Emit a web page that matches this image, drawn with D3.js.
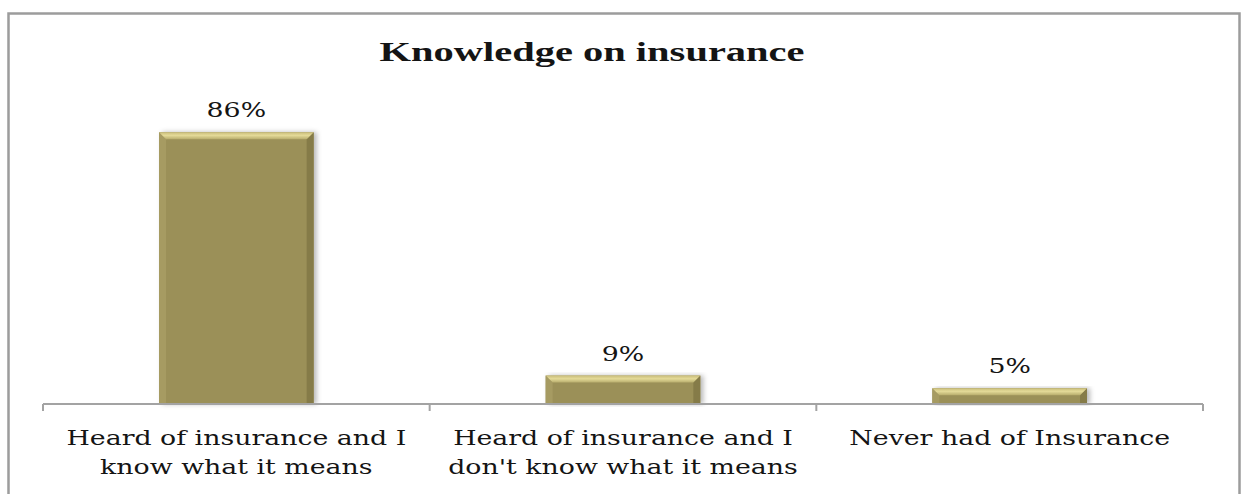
<!DOCTYPE html>
<html>
<head>
<meta charset="utf-8">
<script src="https://cdn.jsdelivr.net/npm/d3@7"></script>
<style>
  html, body { margin: 0; padding: 0; background: #fff; }
  svg { display: block; }
</style>
</head>
<body>
<svg id="chart"></svg>
<script>
/* ---------- data ---------- */

var categories = [
    ["Heard of insurance and I", "know what it means"],
    ["Heard of insurance and I", "don't know what it means"],
    ["Never had of Insurance"]
];
var values = [86, 9, 5];
var valueLabels = ["86%", "9%", "5%"];
var title = "Knowledge on insurance";

/* ---------- size ---------- */

var WIDTH = 1242,
    HEIGHT = 494;

var barColor = "#9b9058",
    axisColor = "#a3a3a3",
    textColor = "#141414";

// the original picture is stretched sideways, so text is too
var stretchTitle = 1.5,
    stretchText = 1.34;

var svg = d3.select("#chart")
    .attr("width", WIDTH)
    .attr("height", HEIGHT);

// outer frame
svg.append("rect")
    .attr("x", 8.5).attr("y", 13.5)
    .attr("width", 1231).attr("height", 500)
    .attr("fill", "#fff")
    .attr("stroke", "#9c9c9c")
    .attr("stroke-width", 2.5);

var defs = svg.append("defs");
var shadow = defs.append("filter")
    .attr("id", "shadow")
    .attr("x", "-10%").attr("y", "-10%")
    .attr("width", "130%").attr("height", "120%");
shadow.append("feDropShadow")
    .attr("dx", 3).attr("dy", 0)
    .attr("stdDeviation", 2.5)
    .attr("flood-color", "#000")
    .attr("flood-opacity", 0.28);

var topGrad = defs.append("linearGradient")
    .attr("id", "topGrad")
    .attr("x1", 0).attr("y1", 0).attr("x2", 0).attr("y2", 1);
topGrad.append("stop").attr("offset", "0%").attr("stop-color", "#c9bd7a");
topGrad.append("stop").attr("offset", "45%").attr("stop-color", "#e4da98");
topGrad.append("stop").attr("offset", "100%").attr("stop-color", "#b8ad6d");

/* ---------- scales ---------- */

var x = d3.scaleBand()
    .domain(d3.range(values.length))
    .range([43, 1203])
    .paddingInner(0.6)
    .paddingOuter(0.3);

var y = d3.scaleLinear()
    .domain([0, 100])
    .range([404, 88]);

/* ---------- title ---------- */

svg.append("text")
    .attr("transform", "translate(592,61) scale(" + stretchTitle + ",1)")
    .attr("text-anchor", "middle")
    .attr("font-family", "'Liberation Serif', 'Times New Roman', serif")
    .attr("font-weight", "bold")
    .attr("font-size", "27px")
    .attr("fill", textColor)
    .text(title);

/* ---------- bars ---------- */

var bars = svg.selectAll(".bar")
    .data(values)
    .enter().append("g")
    .attr("class", "bar");

bars.append("rect")
    .attr("x", function(d, i) { return x(i); })
    .attr("y", function(d) { return y(d); })
    .attr("width", x.bandwidth())
    .attr("height", function(d) { return y(0) - y(d); })
    .attr("fill", barColor)
    .attr("filter", "url(#shadow)");

// bevel edges
var bev = 7;
bars.append("polygon")   // left
    .attr("fill", "#a69b62")
    .attr("points", function(d, i) {
        var x0 = x(i), t = y(d), b = y(0);
        return [[x0, t], [x0 + bev, t + bev], [x0 + bev, b], [x0, b]].join(" ");
    });
bars.append("polygon")   // right
    .attr("fill", "#857b48")
    .attr("points", function(d, i) {
        var x1 = x(i) + x.bandwidth(), t = y(d), b = y(0);
        return [[x1, t], [x1 - bev, t + bev], [x1 - bev, b], [x1, b]].join(" ");
    });
bars.append("polygon")   // top
    .attr("fill", "url(#topGrad)")
    .attr("points", function(d, i) {
        var x0 = x(i), x1 = x(i) + x.bandwidth(), t = y(d);
        return [[x0, t], [x1, t], [x1 - bev, t + bev], [x0 + bev, t + bev]].join(" ");
    });

// value labels
svg.selectAll(".value")
    .data(values)
    .enter().append("text")
    .attr("class", "value")
    .attr("transform", function(d, i) {
        return "translate(" + (x(i) + x.bandwidth() / 2) + "," + (y(d) - 15) + ") scale(" + stretchText + ",1)";
    })
    .attr("text-anchor", "middle")
    .attr("font-family", "'DejaVu Serif', serif")
    .attr("font-size", "20px")
    .attr("fill", textColor)
    .text(function(d, i) { return valueLabels[i]; });

/* ---------- axis ---------- */

var axisLeft = x.range()[0], axisRight = x.range()[1];

svg.append("line")
    .attr("x1", axisLeft).attr("x2", axisRight)
    .attr("y1", y(0)).attr("y2", y(0))
    .attr("stroke", axisColor)
    .attr("stroke-width", 2);

var tickPos = d3.range(values.length + 1).map(function(i) {
    return axisLeft + i * (axisRight - axisLeft) / values.length;
});
svg.selectAll(".tick")
    .data(tickPos)
    .enter().append("line")
    .attr("class", "tick")
    .attr("x1", function(d) { return d; })
    .attr("x2", function(d) { return d; })
    .attr("y1", y(0)).attr("y2", y(0) + 7)
    .attr("stroke", axisColor)
    .attr("stroke-width", 2);

// category labels
var cat = svg.selectAll(".cat")
    .data(categories)
    .enter().append("text")
    .attr("class", "cat")
    .attr("transform", function(d, i) {
        return "translate(" + (x(i) + x.bandwidth() / 2) + ",445) scale(" + stretchText + ",1)";
    })
    .attr("text-anchor", "middle")
    .attr("font-family", "'DejaVu Serif', serif")
    .attr("font-size", "20px")
    .attr("fill", textColor);

cat.selectAll("tspan")
    .data(function(d) { return d; })
    .enter().append("tspan")
    .attr("x", 0)
    .attr("y", function(d, j) { return j * 29; })
    .text(function(d) { return d; });
</script>
</body>
</html>
